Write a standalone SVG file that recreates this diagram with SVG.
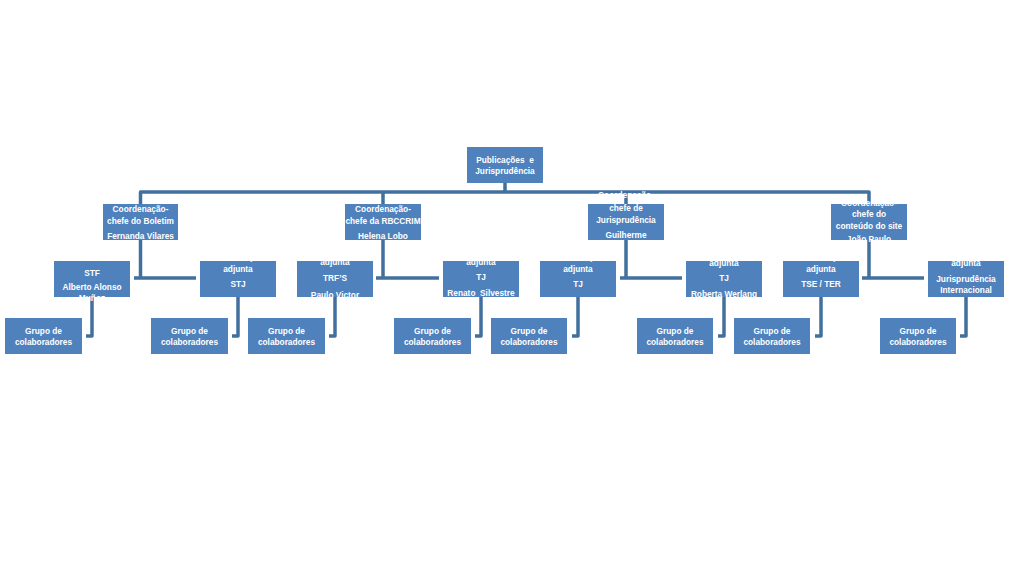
<svg xmlns="http://www.w3.org/2000/svg" width="1009" height="567" viewBox="0 0 1009 567">
<style>
.box{fill:#4F81BD;}
.t{font-family:"Liberation Sans",Arial,sans-serif;font-size:8.3px;font-weight:bold;fill:#FFFFFF;text-anchor:middle;}
.c{fill:none;stroke:#41709F;stroke-width:3.5;stroke-linejoin:round;stroke-linecap:butt;}
</style>
<rect width="1009" height="567" fill="#FFFFFF"/>
<g id="connectors">
<path class="c" d="M505,183V192"/>
<path class="c" d="M140.5,204V192H869V204"/>
<path class="c" d="M383,192V204"/>
<path class="c" d="M626,192V204"/>
<path class="c" d="M140.5,240V278M134,278H196"/>
<path class="c" d="M383,240V278M376,278H439"/>
<path class="c" d="M626,240V278M620,278H682"/>
<path class="c" d="M869,240V278M862,278H924"/>
<path class="c" d="M92,297V336H86"/>
<path class="c" d="M238,297V336H232"/>
<path class="c" d="M335,297V336H329"/>
<path class="c" d="M481,297V336H475"/>
<path class="c" d="M578,297V336H572"/>
<path class="c" d="M724,297V336H718"/>
<path class="c" d="M821,297V336H815"/>
<path class="c" d="M966,297V336H960"/>
</g>
<g id="n-root">
<rect class="box" x="467" y="147" width="76" height="36"/>
<text class="t" x="505" y="163" xml:space="preserve">Publicações  e</text>
<text class="t" x="505" y="174">Jurisprudência</text>
</g>
<g id="n-boletim">
<rect class="box" x="103" y="204" width="75" height="36"/>
<text class="t" x="140.5" y="212">Coordenação-</text>
<text class="t" x="140.5" y="224">chefe do Boletim</text>
<text class="t" x="140.5" y="239">Fernanda Vilares</text>
</g>
<g id="n-rbccrim">
<rect class="box" x="345" y="204" width="76" height="36"/>
<text class="t" x="383" y="212">Coordenação-</text>
<text class="t" x="383" y="224">chefe da RBCCRIM</text>
<text class="t" x="383" y="239">Helena Lobo</text>
</g>
<g id="n-jurisprudencia">
<rect class="box" x="588" y="204" width="76" height="36"/>
<text class="t" x="626" y="198">Coordenação-</text>
<text class="t" x="626" y="211">chefe de</text>
<text class="t" x="626" y="223">Jurisprudência</text>
<text class="t" x="626" y="238">Guilherme</text>
</g>
<g id="n-site">
<rect class="box" x="831" y="204" width="76" height="36"/>
<text class="t" x="869" y="206">Coordenação-</text>
<text class="t" x="869" y="217">chefe do</text>
<text class="t" x="869" y="229">conteúdo do site</text>
<text class="t" x="869" y="242">João Paulo</text>
</g>
<g id="n-stf">
<rect class="box" x="54" y="261" width="76" height="36"/>
<text class="t" x="92" y="276">STF</text>
<text class="t" x="92" y="290">Alberto Alonso</text>
<text class="t" x="92" y="301">Muñoz</text>
</g>
<g id="n-stj">
<rect class="box" x="200" y="261" width="76" height="36"/>
<text class="t" x="238" y="260">Coordenação-</text>
<text class="t" x="238" y="272">adjunta</text>
<text class="t" x="238" y="287">STJ</text>
</g>
<g id="n-trf">
<rect class="box" x="297" y="261" width="76" height="36"/>
<text class="t" x="335" y="253">Coordenação-</text>
<text class="t" x="335" y="265">adjunta</text>
<text class="t" x="335" y="281">TRF’S</text>
<text class="t" x="335" y="298">Paulo Victor</text>
</g>
<g id="n-tj1">
<rect class="box" x="443" y="261" width="76" height="36"/>
<text class="t" x="481" y="253">Coordenação-</text>
<text class="t" x="481" y="265">adjunta</text>
<text class="t" x="481" y="280">TJ</text>
<text class="t" x="481" y="296" xml:space="preserve">Renato  Silvestre</text>
</g>
<g id="n-tj2">
<rect class="box" x="540" y="261" width="76" height="36"/>
<text class="t" x="578" y="260">Coordenação-</text>
<text class="t" x="578" y="272">adjunta</text>
<text class="t" x="578" y="287">TJ</text>
</g>
<g id="n-tj3">
<rect class="box" x="686" y="261" width="76" height="36"/>
<text class="t" x="724" y="254">Coordenação-</text>
<text class="t" x="724" y="266">adjunta</text>
<text class="t" x="724" y="281">TJ</text>
<text class="t" x="724" y="297">Roberta Werlang</text>
</g>
<g id="n-tse">
<rect class="box" x="783" y="261" width="76" height="36"/>
<text class="t" x="821" y="260">Coordenação-</text>
<text class="t" x="821" y="272">adjunta</text>
<text class="t" x="821" y="287">TSE / TER</text>
</g>
<g id="n-internacional">
<rect class="box" x="928" y="261" width="76" height="36"/>
<text class="t" x="966" y="254">Coordenação-</text>
<text class="t" x="966" y="266">adjunta</text>
<text class="t" x="966" y="282">Jurisprudência</text>
<text class="t" x="966" y="293">Internacional</text>
</g>
<g id="n-grupo1">
<rect class="box" x="5" y="318" width="77" height="36"/>
<text class="t" x="43.5" y="334">Grupo de</text>
<text class="t" x="43.5" y="345">colaboradores</text>
</g>
<g id="n-grupo2">
<rect class="box" x="151" y="318" width="77" height="36"/>
<text class="t" x="189.5" y="334">Grupo de</text>
<text class="t" x="189.5" y="345">colaboradores</text>
</g>
<g id="n-grupo3">
<rect class="box" x="248" y="318" width="77" height="36"/>
<text class="t" x="286.5" y="334">Grupo de</text>
<text class="t" x="286.5" y="345">colaboradores</text>
</g>
<g id="n-grupo4">
<rect class="box" x="394" y="318" width="77" height="36"/>
<text class="t" x="432.5" y="334">Grupo de</text>
<text class="t" x="432.5" y="345">colaboradores</text>
</g>
<g id="n-grupo5">
<rect class="box" x="491" y="318" width="76" height="36"/>
<text class="t" x="529" y="334">Grupo de</text>
<text class="t" x="529" y="345">colaboradores</text>
</g>
<g id="n-grupo6">
<rect class="box" x="637" y="318" width="76" height="36"/>
<text class="t" x="675" y="334">Grupo de</text>
<text class="t" x="675" y="345">colaboradores</text>
</g>
<g id="n-grupo7">
<rect class="box" x="734" y="318" width="76" height="36"/>
<text class="t" x="772" y="334">Grupo de</text>
<text class="t" x="772" y="345">colaboradores</text>
</g>
<g id="n-grupo8">
<rect class="box" x="880" y="318" width="76" height="36"/>
<text class="t" x="918" y="334">Grupo de</text>
<text class="t" x="918" y="345">colaboradores</text>
</g>
</svg>
